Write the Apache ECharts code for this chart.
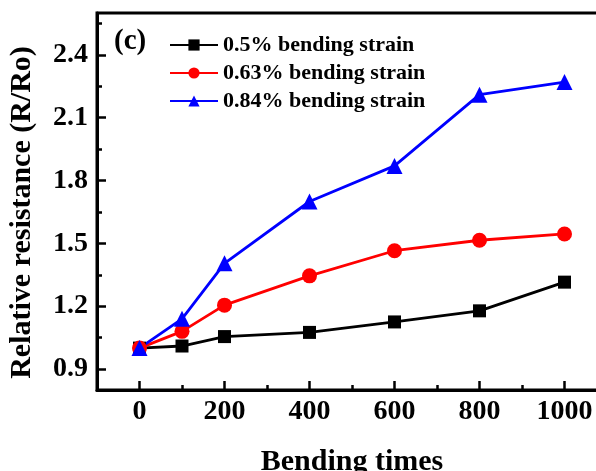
<!DOCTYPE html>
<html><head><meta charset="utf-8">
<script src="https://cdn.jsdelivr.net/npm/echarts@6/dist/echarts.min.js"></script>
<style>html,body{margin:0;padding:0;background:#fff}#c{width:596px;height:471px}</style>
</head><body><div id="c"></div>
<script>
const bendingTimes = [0, 100, 200, 400, 600, 800, 1000];
const strain050 = [1.00, 1.01, 1.055, 1.075, 1.125, 1.178, 1.315];
const strain063 = [1.00, 1.08, 1.205, 1.345, 1.465, 1.515, 1.545];
const strain084 = [1.00, 1.14, 1.405, 1.70, 1.87, 2.21, 2.27];
const xMajorTicks = [0, 200, 400, 600, 800, 1000];
const xMinorTicks = [100, 300, 500, 700, 900];
const yMajorTicks = [0.9, 1.2, 1.5, 1.8, 2.1, 2.4];
const yMinorTicks = [1.05, 1.35, 1.65, 1.95, 2.25, 2.55];
const seriesNames = ['0.5% bending strain', '0.63% bending strain', '0.84% bending strain'];

const FONT = '"Liberation Serif", "DejaVu Serif", serif';
const chart = echarts.init(document.getElementById('c'), null, {renderer: 'canvas'});
const pairs = arr => bendingTimes.map((x, i) => [x, arr[i]]);
const mk = (name, data, color, symbol, size) => ({
  name, type: 'line', data: pairs(data), symbol, symbolSize: size,
  lineStyle: {color, width: 2.8}, itemStyle: {color}, z: 3
});
chart.setOption({
  animation: false,
  grid: {left: 97, top: 13, width: 510, height: 377, outerBoundsMode: 'none', containLabel: false,
    show: true, borderColor: '#000', borderWidth: 3, backgroundColor: 'transparent'},
  legend: {
    orient: 'vertical', left: 164, top: 29, itemGap: 6, itemWidth: 48, itemHeight: 14,
    textStyle: {fontFamily: FONT, fontWeight: 'bold', fontSize: 22, color: '#000'},
    data: seriesNames
  },
  graphic: [{type: 'text', left: 114, top: 27, style: {text: '(c)', font: 'bold 29px ' + FONT, fill: '#000'}}],
  xAxis: [{
    type: 'value', min: -100, max: 1100,
    name: 'Bending times', nameLocation: 'middle', nameGap: 57,
    nameTextStyle: {fontFamily: FONT, fontWeight: 'bold', fontSize: 30, color: '#000'},
    axisLine: {show: true, onZero: false, lineStyle: {color: '#000', width: 3}},
    axisTick: {show: true, inside: true, length: 9, customValues: xMajorTicks, lineStyle: {color: '#000', width: 2.5}},
    axisLabel: {customValues: xMajorTicks, margin: 8, fontFamily: FONT, fontWeight: 'bold', fontSize: 28, color: '#000',
      formatter: v => String(v)},
    splitLine: {show: false}
  }, {
    type: 'value', min: -100, max: 1100, position: 'bottom',
    axisLine: {show: false, onZero: false},
    axisTick: {show: true, inside: true, length: 5, customValues: xMinorTicks, lineStyle: {color: '#000', width: 2.5}},
    axisLabel: {show: false}, splitLine: {show: false}
  }],
  yAxis: [{
    type: 'value', min: 0.8, max: 2.6,
    name: 'Relative resistance (R/Ro)', nameLocation: 'middle', nameGap: 60,
    nameTextStyle: {fontFamily: FONT, fontWeight: 'bold', fontSize: 30, color: '#000', padding: [0, 22, 0, 0]},
    axisLine: {show: true, onZero: false, lineStyle: {color: '#000', width: 3}},
    axisTick: {show: true, inside: true, length: 9, customValues: yMajorTicks, lineStyle: {color: '#000', width: 2.5}},
    axisLabel: {customValues: yMajorTicks, margin: 9, fontFamily: FONT, fontWeight: 'bold', fontSize: 28, color: '#000',
      formatter: v => v.toFixed(1)},
    splitLine: {show: false}
  }, {
    type: 'value', min: 0.8, max: 2.6, position: 'left',
    axisLine: {show: false, onZero: false},
    axisTick: {show: true, inside: true, length: 5, customValues: yMinorTicks, lineStyle: {color: '#000', width: 2.5}},
    axisLabel: {show: false}, splitLine: {show: false}
  }],
  series: [
    mk(seriesNames[0], strain050, '#000000', 'rect', 13),
    mk(seriesNames[1], strain063, '#ff0000', 'circle', 15),
    mk(seriesNames[2], strain084, '#0000ff', 'triangle', 16)
  ]
});
</script></body></html>
